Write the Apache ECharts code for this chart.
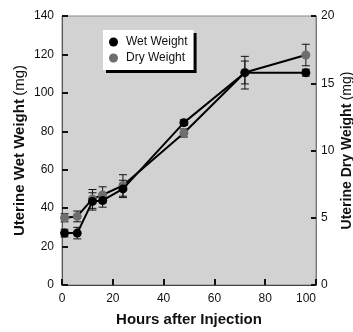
<!DOCTYPE html>
<html>
<head>
<meta charset="utf-8">
<script src="https://cdn.jsdelivr.net/npm/echarts@6/dist/echarts.min.js"></script>
<style>
  html, body { margin: 0; padding: 0; background: #fff; }
  #chart { width: 353px; height: 332px; }
</style>
</head>
<body>
<div id="chart"></div>
<script>
// Hours after injection
const hours = [1, 6, 12, 16, 24, 48, 72, 96];
// Uterine wet weight (mg), mean and error half-width
const wetWeight = [27, 27, 43.5, 44, 50, 84.5, 110.5, 110.5];
const wetError = [2, 3, 4.5, 3.5, 4.5, 1.5, 8.5, 1.8];
// Uterine dry weight (mg), mean and error half-width
const dryWeight = [5.0, 5.1, 6.4, 6.7, 7.4, 11.3, 15.8, 17.1];
const dryError = [0.3, 0.4, 0.7, 0.6, 0.8, 0.3, 0.85, 0.8];
// Axis ticks
const xTicks = [0, 20, 40, 60, 80, 100];

const FONT = '"Liberation Sans", Arial, sans-serif';

function pairs(xs, ys) { return xs.map((x, i) => [x, ys[i]]); }
function errRows(xs, ys, es) { return xs.map((x, i) => [x, ys[i] - es[i], ys[i] + es[i]]); }

// Vertical error bar with caps
function renderErr(params, api) {
  const x = api.value(0);
  const lo = api.coord([x, api.value(1)]);
  const hi = api.coord([x, api.value(2)]);
  const w = 4;
  const style = { stroke: '#111', lineWidth: 1 };
  return {
    type: 'group',
    children: [
      { type: 'line', shape: { x1: lo[0], y1: lo[1], x2: hi[0], y2: hi[1] }, style },
      { type: 'line', shape: { x1: lo[0] - w, y1: lo[1], x2: lo[0] + w, y2: lo[1] }, style },
      { type: 'line', shape: { x1: hi[0] - w, y1: hi[1], x2: hi[0] + w, y2: hi[1] }, style }
    ]
  };
}

const chart = echarts.init(document.getElementById('chart'), null, { renderer: 'canvas' });

const tickLabel = { fontFamily: FONT, fontSize: 12, color: '#111' };
function titleRich(size) {
  return {
    b: { fontFamily: FONT, fontSize: size, fontWeight: 'bold', color: '#111' },
    n: { fontFamily: FONT, fontSize: size, color: '#111' }
  };
}

chart.setOption({
  animation: false,
  textStyle: { fontFamily: FONT },
  grid: {
    left: 62, right: 37, top: 16, bottom: 47,
    outerBoundsMode: 'none', containLabel: false,
    show: true, backgroundColor: '#d2d2d2', borderColor: '#8a8a8a', borderWidth: 1
  },
  legend: {
    left: 103, top: 30,
    orient: 'vertical',
    itemWidth: 9, itemHeight: 9, itemGap: 4,
    padding: [6, 6, 6, 6],
    backgroundColor: '#fff',
    shadowColor: '#000', shadowBlur: 0, shadowOffsetX: 3, shadowOffsetY: 3,
    textStyle: { fontFamily: FONT, fontSize: 12, color: '#111', padding: [0, 0, 0, 3] },
    data: [
      { name: 'Wet Weight', icon: 'circle', itemStyle: { color: '#000' } },
      { name: 'Dry Weight', icon: 'circle', itemStyle: { color: '#6e6e6e' } }
    ]
  },
  xAxis: {
    type: 'value', min: 0, max: 100, interval: 20,
    name: 'Hours after Injection', nameLocation: 'middle', nameGap: 27,
    nameMoveOverlap: false,
    nameTextStyle: { fontFamily: FONT, fontSize: 15, fontWeight: 'bold', color: '#111' },
    axisLine: { lineStyle: { color: '#444', width: 1 } },
    axisTick: { inside: true, length: 6, lineStyle: { color: '#111', width: 2 } },
    axisLabel: Object.assign({
      margin: 8, alignMaxLabel: 'right',
      formatter: v => xTicks.includes(v) ? String(v) : ''
    }, tickLabel),
    splitLine: { show: false }
  },
  yAxis: [
    {
      type: 'value', min: 0, max: 140, interval: 20,
      name: '{b|Uterine Wet Weight} {n|(mg)}', nameLocation: 'middle', nameGap: 35, nameRotate: 90,
      nameMoveOverlap: false,
      nameTextStyle: { rich: titleRich(15) },
      axisLine: { show: true, lineStyle: { color: '#555', width: 1 } },
      axisTick: { show: true, inside: true, length: 6, lineStyle: { color: '#111', width: 2 } },
      axisLabel: Object.assign({ margin: 8 }, tickLabel),
      splitLine: { show: false }
    },
    {
      type: 'value', min: 0, max: 20, interval: 5, position: 'right',
      name: '{b|Uterine Dry Weight} {n|(mg)}', nameLocation: 'middle', nameGap: 24, nameRotate: 90,
      nameMoveOverlap: false,
      nameTextStyle: { rich: titleRich(14) },
      axisLine: { show: true, lineStyle: { color: '#777', width: 1 } },
      axisTick: { show: true, inside: true, length: 5, lineStyle: { color: '#111', width: 2 } },
      axisLabel: Object.assign({ margin: 5 }, tickLabel),
      splitLine: { show: false }
    }
  ],
  series: [
    {
      type: 'custom', yAxisIndex: 1, renderItem: renderErr,
      data: errRows(hours, dryWeight, dryError), z: 3, silent: true
    },
    {
      type: 'custom', yAxisIndex: 0, renderItem: renderErr,
      data: errRows(hours, wetWeight, wetError), z: 3, silent: true
    },
    {
      name: 'Dry Weight', type: 'line', yAxisIndex: 1,
      data: pairs(hours, dryWeight),
      symbol: 'circle', symbolSize: 9,
      lineStyle: { color: '#000', width: 2 },
      itemStyle: { color: '#6e6e6e' }, z: 4
    },
    {
      name: 'Wet Weight', type: 'line', yAxisIndex: 0,
      data: pairs(hours, wetWeight),
      symbol: 'circle', symbolSize: 9,
      lineStyle: { color: '#000', width: 2 },
      itemStyle: { color: '#000' }, z: 5
    }
  ]
});
</script>
</body>
</html>
